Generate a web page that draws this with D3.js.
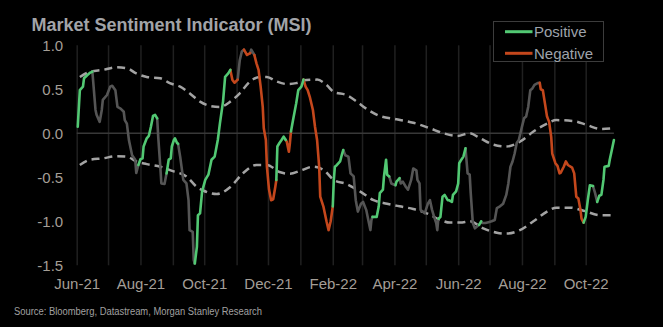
<!DOCTYPE html>
<html>
<head>
<meta charset="utf-8">
<script src="https://cdn.jsdelivr.net/npm/d3@7"></script>
<style>
  html, body { margin: 0; padding: 0; background: #000; }
  svg { display: block; }
</style>
</head>
<body>
<svg id="chart" width="663" height="327"></svg>
<script>
// Market Sentiment Indicator, days counted from 1 Jun 2021
const msiDay = [1,3,6,7,10,13,15,18,19,22,24,25,29,32,34,37,39,42,45,46,48,50,53,56,57,59,61,63,64,67,69,71,73,75,77,78,80,81,84,86,88,90,91,93,94,96,97,99,102,105,107,108,111,112,113,115,116,118,120,123,126,129,132,135,137,140,142,145,147,149,151,154,156,158,160,163,166,167,170,172,174,176,178,179,181,182,184,186,188,190,191,192,194,196,198,200,201,203,204,205,207,210,212,215,217,219,221,223,226,228,230,232,233,236,239,241,243,245,246,247,249,252,254,255,257,260,262,265,267,269,272,274,277,279,281,282,283,287,289,290,293,294,296,297,299,301,305,306,309,310,312,315,317,320,322,325,326,328,329,331,333,336,338,340,342,344,345,346,348,350,352,355,356,359,360,363,365,366,368,370,372,374,376,377,379,381,383,385,387,388,391,394,397,400,402,405,408,411,413,415,417,419,421,423,426,428,430,432,434,436,438,441,443,444,446,448,450,452,454,455,458,460,462,463,466,468,470,474,476,478,480,482,483,485,487,489,491,494,496,498,500,502,504,505,509,510,512,514];
const msiValue = [0.075,0.49,0.53,0.625,0.66,0.69,0.70,0.265,0.21,0.13,0.265,0.38,0.435,0.53,0.54,0.49,0.30,0.28,0.245,0.15,0.11,-0.08,-0.25,-0.30,-0.45,-0.36,-0.295,-0.285,-0.15,-0.057,-0.03,0.075,0.197,0.21,0.17,-0.04,-0.38,-0.57,-0.575,-0.455,-0.30,-0.285,-0.15,-0.076,-0.057,-0.11,-0.12,-0.265,-0.53,-0.57,-0.76,-1.10,-1.12,-1.44,-1.48,-1.29,-0.93,-0.91,-0.66,-0.53,-0.47,-0.30,-0.265,-0.076,0.11,0.36,0.64,0.68,0.72,0.605,0.575,0.61,0.83,0.93,0.95,0.89,0.91,0.95,0.89,0.795,0.72,0.53,0.30,0.057,-0.076,-0.38,-0.64,-0.76,-0.75,-0.61,-0.53,-0.15,-0.11,-0.076,-0.038,-0.076,-0.095,-0.21,-0.11,0.02,0.15,0.34,0.49,0.53,0.61,0.53,0.49,0.415,0.265,0.075,-0.076,-0.38,-0.72,-0.83,-1.0,-1.10,-1.0,-0.83,-0.53,-0.38,-0.36,-0.32,-0.23,-0.19,-0.25,-0.265,-0.455,-0.49,-0.76,-0.89,-0.80,-0.78,-0.87,-0.985,-1.10,-0.985,-0.95,-0.95,-0.83,-0.68,-0.64,-0.49,-0.30,-0.47,-0.49,-0.57,-0.59,-0.55,-0.51,-0.57,-0.55,-0.61,-0.64,-0.53,-0.40,-0.42,-0.53,-0.57,-0.87,-0.89,-0.91,-0.80,-0.76,-0.87,-0.95,-1.02,-1.10,-0.97,-0.95,-0.72,-0.70,-0.76,-0.76,-0.78,-0.70,-0.66,-0.57,-0.34,-0.30,-0.265,-0.17,-0.455,-0.47,-0.68,-1.02,-1.08,-1.06,-1.04,-1.0,-1.02,-1.02,-1.01,-1.0,-0.985,-0.85,-0.83,-0.80,-0.70,-0.57,-0.38,-0.32,-0.23,-0.11,-0.076,0.075,0.17,0.19,0.30,0.49,0.51,0.55,0.57,0.575,0.50,0.49,0.34,0.19,0.13,-0.04,-0.23,-0.34,-0.37,-0.455,-0.45,-0.38,-0.32,-0.36,-0.39,-0.455,-0.72,-0.74,-0.87,-0.97,-1.015,-0.95,-0.76,-0.59,-0.60,-0.68,-0.78,-0.71,-0.70,-0.53,-0.38,-0.37,-0.30,-0.19,-0.076];

// Signal periods [fromDay, toDay)
const positiveSpans = [[1,15],[59,77],[86,97],[113,147],[191,200],[205,217],[245,255],[283,299],[305,309],[346,372],[385,387],[485,494],[498,514]];
const negativeSpans = [[147,154],[160,166],[170,191],[200,205],[217,245],[443,485]];

// Upper and lower bands
const upperDay = [3,13,25,38,48,57,67,80,89,99,108,118,128,137,147,156,166,175,182,191,201,210,220,230,239,246,258,268,277,290,306,322,338,351,364,376,386,399,411,424,437,450,459,475,488,501,513];
const upperValue = [0.64,0.70,0.72,0.75,0.74,0.68,0.64,0.625,0.57,0.53,0.455,0.36,0.31,0.30,0.36,0.455,0.59,0.64,0.64,0.59,0.56,0.57,0.605,0.61,0.55,0.47,0.435,0.36,0.28,0.197,0.16,0.12,0.057,0.0,-0.03,0.0,-0.057,-0.13,-0.15,-0.095,0.02,0.11,0.15,0.14,0.095,0.05,0.057];
const lowerDay = [3,13,25,38,48,57,67,80,92,105,115,121,134,147,159,172,182,194,204,214,226,236,246,258,271,284,297,309,322,335,348,357,367,376,389,402,411,424,437,450,459,472,485,501,513];
const lowerValue = [-0.36,-0.30,-0.285,-0.26,-0.265,-0.32,-0.35,-0.38,-0.43,-0.49,-0.61,-0.65,-0.69,-0.61,-0.455,-0.36,-0.36,-0.44,-0.46,-0.425,-0.38,-0.415,-0.53,-0.575,-0.66,-0.76,-0.80,-0.83,-0.86,-0.91,-0.985,-1.015,-1.015,-1.0,-1.08,-1.13,-1.14,-1.10,-1.0,-0.89,-0.845,-0.845,-0.88,-0.93,-0.93];

const monthLabels = ["Jun-21","Aug-21","Oct-21","Dec-21","Feb-22","Apr-22","Jun-22","Aug-22","Oct-22"];
const yTicks = [1.0, 0.5, 0.0, -0.5, -1.0, -1.5];

const COLORS = { P: "#52c873", N: "#c4471c", G: "#555555", band: "#a3a3a3" };
const FONT = "Arial, 'Liberation Sans', sans-serif";

const svg = d3.select("#chart");
const start = new Date(2021, 5, 1);
const toDate = d => d3.timeDay.offset(start, d);
const parseMonth = d3.timeParse("%b-%y");

const plotTop = 45.3, plotBottom = 265.3;
const x = d3.scaleTime()
  .domain([start, new Date(2022, 9, 1)])
  .range([76.7, 585.7]);
const y = d3.scaleLinear().domain([-1.5, 1]).range([plotBottom, plotTop]);

// monthly vertical gridlines
const grid = svg.append("g")
  .attr("transform", `translate(0,${plotBottom})`)
  .call(d3.axisBottom(x).ticks(d3.timeMonth.every(1)).tickSize(-(plotBottom - plotTop)).tickFormat(""));
grid.select(".domain").remove();
grid.selectAll("line").attr("stroke", "#202020").attr("stroke-width", 1.5);

// zero line
svg.append("line")
  .attr("x1", x(start)).attr("x2", x(toDate(514)))
  .attr("y1", y(0)).attr("y2", y(0))
  .attr("stroke", "#383838").attr("stroke-width", 1.5);

// y axis labels
const yAxis = svg.append("g")
  .attr("transform", `translate(${x(start)},0)`)
  .call(d3.axisLeft(y).tickValues(yTicks).tickSize(0).tickPadding(13.5).tickFormat(d => d.toFixed(1)));
yAxis.select(".domain").remove();
yAxis.selectAll("text")
  .attr("fill", "#a49e97").attr("font-family", FONT).attr("font-size", 15);

// x axis labels, every second month
const xAxis = svg.append("g")
  .attr("transform", "translate(0,268)")
  .call(d3.axisBottom(x)
    .tickValues(monthLabels.map(parseMonth))
    .tickFormat(d3.timeFormat("%b-%y"))
    .tickSize(0).tickPadding(10));
xAxis.select(".domain").remove();
xAxis.selectAll("text")
  .attr("fill", "#a49e97").attr("font-family", FONT).attr("font-size", 15);

// bands
const bandLine = d3.line().x(d => x(toDate(d[0]))).y(d => y(d[1])).curve(d3.curveMonotoneX);
[[upperDay, upperValue], [lowerDay, lowerValue]].forEach(([ds, vs]) => {
  svg.append("path")
    .attr("d", bandLine(ds.map((d, i) => [d, vs[i]])))
    .attr("fill", "none")
    .attr("stroke", COLORS.band)
    .attr("stroke-width", 2.5)
    .attr("stroke-dasharray", "8,5");
});

// MSI line split into coloured runs
const regimeAt = d => {
  if (positiveSpans.some(([a, b]) => d >= a && d < b)) return "P";
  if (negativeSpans.some(([a, b]) => d >= a && d < b)) return "N";
  return "G";
};
const runs = [];
for (let i = 0; i < msiDay.length - 1; i++) {
  const r = regimeAt(msiDay[i]);
  const last = runs[runs.length - 1];
  if (last && last.r === r) last.pts.push(i + 1);
  else runs.push({ r, pts: [i, i + 1] });
}
const msiLine = d3.line().x(i => x(toDate(msiDay[i]))).y(i => y(msiValue[i]));
const order = { G: 0, N: 1, P: 2 };
runs.sort((a, b) => order[a.r] - order[b.r]).forEach(run => {
  svg.append("path")
    .attr("d", msiLine(run.pts))
    .attr("fill", "none")
    .attr("stroke", COLORS[run.r])
    .attr("stroke-width", 2.6)
    .attr("stroke-linejoin", "round")
    .attr("stroke-linecap", "round");
});

// title
svg.append("text")
  .attr("x", 31.5).attr("y", 30.5)
  .attr("fill", "#a2a4a8")
  .attr("font-family", FONT)
  .attr("font-weight", "bold").attr("font-size", 18)
  .text("Market Sentiment Indicator (MSI)");

// legend
const legend = svg.append("g");
legend.append("rect")
  .attr("x", 493.5).attr("y", 21.5).attr("width", 110).attr("height", 40)
  .attr("fill", "#000").attr("stroke", "#3c3c3c").attr("stroke-width", 1);
[["Positive", COLORS.P, 31.7], ["Negative", COLORS.N, 53.3]].forEach(([name, color, ly]) => {
  legend.append("line")
    .attr("x1", 505).attr("x2", 532.5).attr("y1", ly).attr("y2", ly)
    .attr("stroke", color).attr("stroke-width", 3);
  legend.append("text")
    .attr("x", 534).attr("y", ly + 5.5)
    .attr("fill", "#9ea3ab")
    .attr("font-family", FONT).attr("font-size", 15)
    .text(name);
});

// source note
svg.append("text")
  .attr("x", 14).attr("y", 314.5)
  .attr("fill", "#a0a0a0")
  .attr("font-family", "'Liberation Sans Narrow', 'Arial Narrow', Arial, sans-serif")
  .attr("font-size", 10)
  .attr("textLength", 248).attr("lengthAdjust", "spacingAndGlyphs")
  .text("Source: Bloomberg, Datastream, Morgan Stanley Research");
</script>
</body>
</html>
